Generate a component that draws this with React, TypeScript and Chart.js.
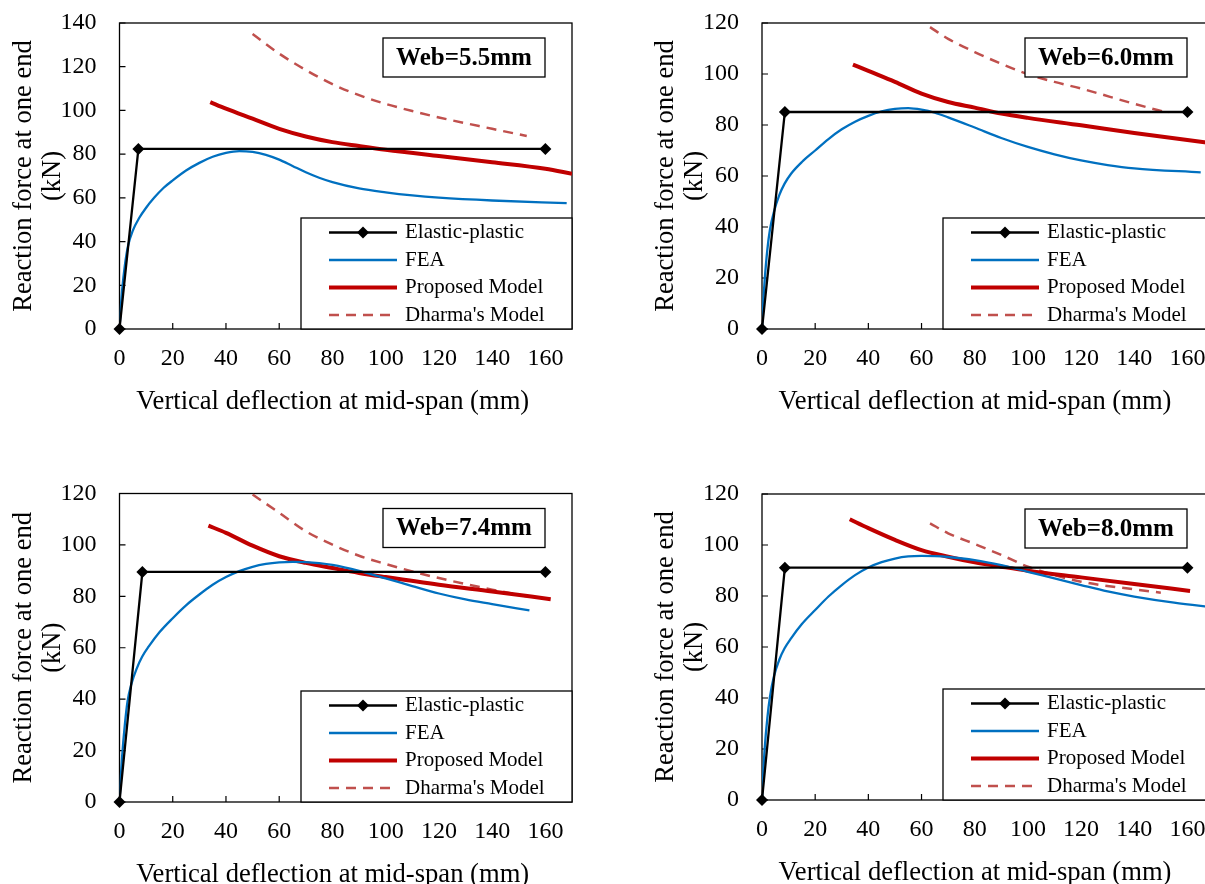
import React, { useEffect, useRef } from "react";
import { Chart, registerables } from "chart.js";

Chart.register(...registerables);

// ---------- shared labels / ticks ----------
const SERIES_NAMES = ["Elastic-plastic", "FEA", "Proposed Model", "Dharma's Model"];
const X_TITLE = "Vertical deflection at mid-span (mm)";
const Y_TITLE = ["Reaction force at one end", "(kN)"];
const X_TICKS = [0, 20, 40, 60, 80, 100, 120, 140, 160];
const Y_TICKS_140 = [0, 20, 40, 60, 80, 100, 120, 140];
const Y_TICKS_120 = [0, 20, 40, 60, 80, 100, 120];
const PANEL_TITLES = ["Web=5.5mm", "Web=6.0mm", "Web=7.4mm", "Web=8.0mm"];

// ---------- Panel 1 (Web = 5.5 mm) ----------
const EP1_X = [0, 7.1, 160];
const EP1_Y = [0, 82.4, 82.4];
const FEA1_X = [0, 0.5, 1, 2, 3.2, 5, 7.5, 10, 13, 16.5, 20, 25, 30, 35, 40, 45, 50, 55, 60, 65, 70, 75, 80, 90, 100, 110, 120, 140, 168];
const FEA1_Y = [0, 10, 18, 29, 38, 45, 51, 55.5, 60, 64.5, 68, 72.5, 76, 78.8, 80.6, 81.4, 81, 79.7, 77.5, 74.6, 71.7, 69.2, 67.2, 64.3, 62.5, 61.1, 60.1, 58.8, 57.6];
const PM1_X = [34.1, 40, 50, 60, 70, 80, 90, 100, 120, 140, 160, 170];
const PM1_Y = [103.8, 100.8, 96.2, 91.6, 88.1, 85.5, 83.7, 82, 79.1, 76.3, 73.3, 71];
const DH1_X = [50, 60, 70, 80, 90, 100, 110, 120, 140, 153];
const DH1_Y = [135, 126, 118.5, 112, 107, 103, 99.7, 96.8, 91.6, 88.3];

// ---------- Panel 2 (Web = 6.0 mm) ----------
const EP2_X = [0, 8.6, 160];
const EP2_Y = [0, 85.1, 85.1];
const FEA2_X = [0, 0.5, 1, 2, 3, 4.5, 6.5, 8.5, 11, 15, 20, 25, 30, 35, 40, 45, 50, 55, 60, 65, 70, 80, 90, 100, 110, 120, 130, 140, 165];
const FEA2_Y = [0, 11, 19, 31, 39, 46, 52.5, 57, 61, 65.5, 70, 74.5, 78.3, 81.3, 83.6, 85.3, 86.3, 86.6, 86, 84.8, 83, 79, 74.9, 71.4, 68.5, 66.1, 64.3, 63, 61.4];
const PM2_X = [34.2, 40, 50, 60, 70, 80, 90, 100, 120, 140, 170];
const PM2_Y = [103.7, 101.2, 96.9, 92.3, 89, 86.8, 84.5, 82.8, 79.9, 76.9, 72.7];
const DH2_X = [63.2, 70, 80, 90, 100, 110, 120, 140, 153];
const DH2_Y = [118.4, 113.8, 108.6, 104, 99.9, 96.9, 94.3, 88.3, 84.7];

// ---------- Panel 3 (Web = 7.4 mm) ----------
const EP3_X = [0, 8.6, 160];
const EP3_Y = [0, 89.5, 89.5];
const FEA3_X = [0, 0.5, 1, 2, 3, 4.5, 6.5, 8.5, 11, 15, 20, 25, 30, 35, 40, 45, 50, 55, 60, 65, 70, 75, 80, 90, 100, 110, 120, 130, 140, 154];
const FEA3_Y = [0, 10, 18, 30, 39, 46, 52, 56.5, 60.5, 66, 71.5, 76.5, 80.7, 84.5, 87.5, 89.8, 91.5, 92.6, 93.2, 93.4, 93.3, 92.9, 92.2, 89.9, 87, 84, 81.1, 78.8, 77, 74.5];
const PM3_X = [33.4, 40, 50, 60, 70, 80, 90, 100, 120, 140, 162];
const PM3_Y = [107.5, 104.7, 99.7, 95.6, 93, 91, 89.1, 87.5, 84.5, 81.9, 78.9];
const DH3_X = [50, 60, 70, 80, 90, 100, 110, 120, 140, 153];
const DH3_Y = [119.6, 112.5, 105.3, 100.1, 95.8, 92.6, 89.7, 87.1, 82.6, 80];

// ---------- Panel 4 (Web = 8.0 mm) ----------
const EP4_X = [0, 8.6, 160];
const EP4_Y = [0, 91.1, 91.1];
const FEA4_X = [0, 0.5, 1, 2, 3, 4.5, 6.5, 8.5, 11, 15, 20, 25, 30, 35, 40, 45, 50, 55, 60, 65, 70, 80, 90, 100, 110, 120, 130, 140, 155, 170];
const FEA4_Y = [0, 11, 20, 32, 40.5, 48.5, 55, 59.5, 63.5, 69, 74.5, 79.8, 84.3, 88.2, 91.2, 93.3, 94.7, 95.5, 95.7, 95.6, 95.3, 94.1, 92.1, 89.5, 86.9, 84.3, 81.8, 79.8, 77.4, 75.5];
const PM4_X = [33, 40, 50, 60, 70, 80, 90, 100, 120, 140, 161];
const PM4_Y = [110.1, 106.6, 102, 98, 95.4, 93.2, 91.5, 89.9, 87.3, 84.7, 82];
const DH4_X = [63.2, 70, 80, 90, 100, 110, 120, 140, 150];
const DH4_Y = [108.5, 104.6, 100.4, 96.1, 91.5, 88.2, 85.6, 82.6, 81.3];

// ---------- styling ----------
const FONT = '"Liberation Serif", "Times New Roman", serif';
const COLORS = ["#000000", "#0070C0", "#C00000", "#C0504D"];
const WIDTHS = [2.3, 2.3, 4, 2.5];
const DASHES: number[][] = [[], [], [], [10, 7]];
const CANVAS_W = 602;

type PanelCfg = {
  title: string;
  left: number;
  top: number;
  h: number;
  area: { left: number; top: number; right: number; bottom: number };
  yMax: number;
  yTicks: number[];
  series: [number[], number[]][];
};

const PANELS: PanelCfg[] = [
  {
    title: PANEL_TITLES[0], left: 0, top: -30, h: 470,
    area: { left: 119.5, top: 53, right: 572, bottom: 359 },
    yMax: 140, yTicks: Y_TICKS_140,
    series: [[EP1_X, EP1_Y], [FEA1_X, FEA1_Y], [PM1_X, PM1_Y], [DH1_X, DH1_Y]],
  },
  {
    title: PANEL_TITLES[1], left: 642, top: -30, h: 470,
    area: { left: 120, top: 53, right: 572, bottom: 359 },
    yMax: 120, yTicks: Y_TICKS_120,
    series: [[EP2_X, EP2_Y], [FEA2_X, FEA2_Y], [PM2_X, PM2_Y], [DH2_X, DH2_Y]],
  },
  {
    title: PANEL_TITLES[2], left: 0, top: 440, h: 444,
    area: { left: 119.5, top: 53.5, right: 572, bottom: 362 },
    yMax: 120, yTicks: Y_TICKS_120,
    series: [[EP3_X, EP3_Y], [FEA3_X, FEA3_Y], [PM3_X, PM3_Y], [DH3_X, DH3_Y]],
  },
  {
    title: PANEL_TITLES[3], left: 642, top: 440, h: 444,
    area: { left: 120, top: 54, right: 572, bottom: 360 },
    yMax: 120, yTicks: Y_TICKS_120,
    series: [[EP4_X, EP4_Y], [FEA4_X, FEA4_Y], [PM4_X, PM4_Y], [DH4_X, DH4_Y]],
  },
];

function drawDiamond(ctx: CanvasRenderingContext2D, x: number, y: number, r: number) {
  ctx.beginPath();
  ctx.moveTo(x, y - r);
  ctx.lineTo(x + r, y);
  ctx.lineTo(x, y + r);
  ctx.lineTo(x - r, y);
  ctx.closePath();
  ctx.fill();
}

function makeDecor(cfg: PanelCfg) {
  return {
    id: "panelDecor",
    beforeDatasetsDraw(chart: any) {
      const { ctx, chartArea: a, scales } = chart;
      ctx.save();
      ctx.strokeStyle = "#000";
      ctx.lineWidth = 1.3;
      ctx.strokeRect(a.left, a.top, a.right - a.left, a.bottom - a.top);
      ctx.lineWidth = 1.2;
      ctx.beginPath();
      for (const v of X_TICKS) {
        const px = scales.x.getPixelForValue(v);
        ctx.moveTo(px, a.bottom);
        ctx.lineTo(px, a.bottom - 6);
      }
      for (const v of cfg.yTicks) {
        const py = scales.y.getPixelForValue(v);
        ctx.moveTo(a.left, py);
        ctx.lineTo(a.left + 6, py);
      }
      ctx.stroke();
      ctx.fillStyle = "#000";
      ctx.font = `26.6px ${FONT}`;
      ctx.textAlign = "center";
      ctx.textBaseline = "middle";
      ctx.fillText(X_TITLE, (a.left + a.right) / 2 - 13, a.bottom + 73);
      ctx.restore();
    },
    afterDatasetsDraw(chart: any) {
      const { ctx, chartArea: a } = chart;
      ctx.save();
      // title box
      const tbW = 162, tbH = 39;
      const tbX = a.right - 27 - tbW, tbY = a.top + 15;
      ctx.fillStyle = "#fff";
      ctx.fillRect(tbX, tbY, tbW, tbH);
      ctx.strokeStyle = "#000";
      ctx.lineWidth = 1.3;
      ctx.strokeRect(tbX, tbY, tbW, tbH);
      ctx.fillStyle = "#000";
      ctx.font = `bold 25px ${FONT}`;
      ctx.textAlign = "center";
      ctx.textBaseline = "middle";
      ctx.fillText(cfg.title, tbX + tbW / 2, tbY + tbH / 2 + 1);
      // legend box
      const lbW = 271, lbH = 111;
      const lbX = a.right - lbW, lbY = a.bottom - lbH;
      ctx.fillStyle = "#fff";
      ctx.fillRect(lbX, lbY, lbW, lbH);
      ctx.strokeStyle = "#000";
      ctx.lineWidth = 1.3;
      ctx.strokeRect(lbX, lbY, lbW, lbH);
      chart.data.datasets.forEach((ds: any, i: number) => {
        const y = lbY + 14.5 + i * 27.5;
        ctx.strokeStyle = ds.borderColor;
        ctx.lineWidth = ds.borderWidth;
        ctx.setLineDash(ds.borderDash || []);
        ctx.beginPath();
        ctx.moveTo(lbX + 28, y);
        ctx.lineTo(lbX + 96, y);
        ctx.stroke();
        ctx.setLineDash([]);
        if (i === 0) {
          ctx.fillStyle = "#000";
          drawDiamond(ctx, lbX + 62, y, 6);
        }
        ctx.fillStyle = "#000";
        ctx.font = `21px ${FONT}`;
        ctx.textAlign = "left";
        ctx.textBaseline = "middle";
        ctx.fillText(ds.label, lbX + 104, y);
      });
      ctx.restore();
    },
  };
}

function Panel({ cfg }: { cfg: PanelCfg }) {
  const ref = useRef<HTMLCanvasElement>(null);
  useEffect(() => {
    if (!ref.current) return;
    const H = cfg.h;
    const datasets = cfg.series.map(([xs, ys], i) => ({
      label: SERIES_NAMES[i],
      data: xs.map((x, j) => ({ x, y: ys[j] })),
      borderColor: COLORS[i],
      backgroundColor: COLORS[i],
      borderWidth: WIDTHS[i],
      borderDash: DASHES[i],
      pointRadius: i === 0 ? 6 : 0,
      pointStyle: "rectRot",
      pointBackgroundColor: "#000",
      pointBorderColor: "#000",
      pointBorderWidth: 0,
      tension: 0,
      cubicInterpolationMode: i === 0 ? "default" : "monotone",
      clip: i === 0 ? false : undefined,
      fill: false,
    }));
    const chart = new Chart(ref.current, {
      type: "line",
      data: { datasets } as any,
      options: {
        animation: false,
        responsive: false,
        maintainAspectRatio: false,
        devicePixelRatio: 1,
        layout: {
          padding: { top: cfg.area.top, right: CANVAS_W - cfg.area.right, bottom: 0, left: 0 },
        },
        scales: {
          x: {
            type: "linear",
            min: 0,
            max: 170,
            afterBuildTicks: (s: any) => {
              s.ticks = X_TICKS.map((v) => ({ value: v }));
            },
            afterFit: (s: any) => {
              s.height = H - cfg.area.bottom;
            },
            grid: { display: false, drawTicks: false },
            border: { display: false },
            ticks: {
              color: "#000",
              font: { family: FONT, size: 24 },
              padding: 15,
              maxRotation: 0,
              autoSkip: false,
            },
          },
          y: {
            type: "linear",
            min: 0,
            max: cfg.yMax,
            afterBuildTicks: (s: any) => {
              s.ticks = cfg.yTicks.map((v) => ({ value: v }));
            },
            afterFit: (s: any) => {
              s.width = cfg.area.left;
            },
            grid: { display: false, drawTicks: false },
            border: { display: false },
            ticks: {
              color: "#000",
              font: { family: FONT, size: 24 },
              padding: 23,
              autoSkip: false,
            },
            title: {
              display: true,
              text: Y_TITLE,
              color: "#000",
              font: { family: FONT, size: 26.6, lineHeight: 1.1 },
              padding: { top: 9, bottom: 0 },
            },
          },
        },
        plugins: {
          legend: { display: false },
          tooltip: { enabled: false },
        },
      } as any,
      plugins: [makeDecor(cfg)],
    });
    return () => chart.destroy();
  }, []);
  return (
    <canvas
      ref={ref}
      width={CANVAS_W}
      height={cfg.h}
      style={{ position: "absolute", left: cfg.left, top: cfg.top, width: CANVAS_W, height: cfg.h }}
    />
  );
}

export default function App() {
  return (
    <div
      style={{
        position: "fixed",
        left: 0,
        top: 0,
        width: 1205,
        height: 884,
        overflow: "hidden",
        background: "#fff",
      }}
    >
      {PANELS.map((p, i) => (
        <Panel key={i} cfg={p} />
      ))}
    </div>
  );
}
